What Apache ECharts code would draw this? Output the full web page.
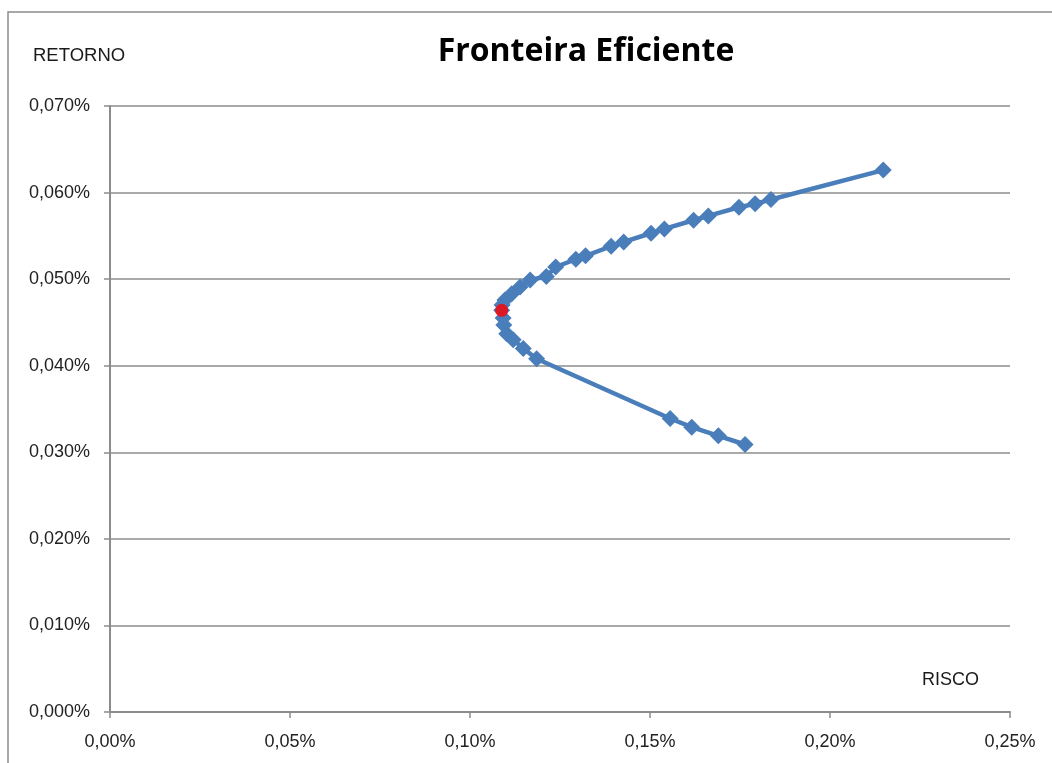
<!DOCTYPE html>
<html>
<head>
<meta charset="utf-8">
<script src="https://cdn.jsdelivr.net/npm/echarts@6/dist/echarts.min.js"></script>
<style>
html,body{margin:0;padding:0;background:#fff;}
#chart{width:1052px;height:763px;}
</style>
</head>
<body>
<div id="chart"></div>
<script>
// Risk (x, %) and Return (y, %) of frontier portfolios, lower end to upper end
const risco = [0.1764, 0.1690, 0.1616, 0.1556, 0.1185, 0.1148, 0.1120, 0.1102, 0.1094, 0.1092,
               0.1088,
               0.1089, 0.1097, 0.1116, 0.1139, 0.1167, 0.1212, 0.1238, 0.1294, 0.1321, 0.1392,
               0.1427, 0.1503, 0.1540, 0.1621, 0.1662, 0.1747, 0.1792, 0.1836, 0.2148];
const retorno = [0.0309, 0.0319, 0.0329, 0.0339, 0.0408, 0.0420, 0.0430, 0.0437, 0.0447, 0.0455,
                 0.0464,
                 0.0470, 0.0476, 0.0483, 0.0491, 0.0499, 0.0503, 0.0514, 0.0523, 0.0527, 0.0538,
                 0.0543, 0.0553, 0.0558, 0.0568, 0.0573, 0.0583, 0.0587, 0.0592, 0.0626];
// Minimum variance portfolio
const minRisco = [0.1088];
const minRetorno = [0.0464];

const xTicks = [0, 0.05, 0.10, 0.15, 0.20, 0.25];
const yTicks = [0, 0.01, 0.02, 0.03, 0.04, 0.05, 0.06, 0.07];

const frontier = risco.map((x, i) => [x, retorno[i]]);
const minVar = minRisco.map((x, i) => [x, minRetorno[i]]);

const chart = echarts.init(document.getElementById('chart'));
const labelFont = 'Liberation Sans, Arial, sans-serif';
chart.setOption({
  backgroundColor: '#fff',
  animation: false,
  title: {
    text: 'Fronteira Eficiente',
    left: 581, top: 31, textAlign: 'center',
    textStyle: {fontFamily: '"Open Sans", Lato, sans-serif', fontWeight: 'bold', fontSize: 32, color: '#000'}
  },
  graphic: [
    {type: 'rect', shape: {x: 8, y: 12, width: 1060, height: 780},
     style: {fill: 'none', stroke: '#8c8c8c', lineWidth: 1.5}, silent: true},
    {type: 'text', left: 33, top: 46,
     style: {text: 'RETORNO', fontFamily: labelFont, fontSize: 18.5, fill: '#1a1a1a'}},
    {type: 'text', left: 922, top: 671,
     style: {text: 'RISCO', fontFamily: labelFont, fontSize: 18, fill: '#1a1a1a'}}
  ],
  grid: {left: 110, right: 42, top: 106, bottom: 51, containLabel: false},
  xAxis: {
    type: 'value', min: xTicks[0], max: xTicks[xTicks.length - 1], interval: 0.05,
    axisLine: {show: true, onZero: false, lineStyle: {color: '#8c8c8c', width: 2}},
    axisTick: {show: true, inside: false, length: 6, lineStyle: {color: '#8c8c8c', width: 1.5}},
    splitLine: {show: false},
    axisLabel: {
      margin: 21, fontFamily: labelFont, fontSize: 18, color: '#222',
      formatter: v => v.toFixed(2).replace('.', ',') + '%'
    }
  },
  yAxis: {
    type: 'value', min: yTicks[0], max: yTicks[yTicks.length - 1], interval: 0.01,
    axisLine: {show: true, lineStyle: {color: '#8c8c8c', width: 2}},
    axisTick: {show: true, inside: false, length: 6, lineStyle: {color: '#8c8c8c', width: 1.5}},
    splitLine: {show: true, lineStyle: {color: '#8c8c8c', width: 1.5}},
    axisLabel: {
      margin: 20, fontFamily: labelFont, fontSize: 18, color: '#222',
      formatter: v => v.toFixed(3).replace('.', ',') + '%'
    }
  },
  series: [
    {
      name: 'Fronteira', type: 'line', data: frontier,
      symbol: 'diamond', symbolSize: 17, showAllSymbol: true,
      lineStyle: {color: '#4a7ebb', width: 4.5},
      itemStyle: {color: '#4a7ebb'},
      z: 2
    },
    {
      name: 'Mínima variância', type: 'scatter', data: minVar,
      symbol: 'circle', symbolSize: 13,
      itemStyle: {color: '#ff0000'},
      z: 5
    }
  ]
});
</script>
</body>
</html>
